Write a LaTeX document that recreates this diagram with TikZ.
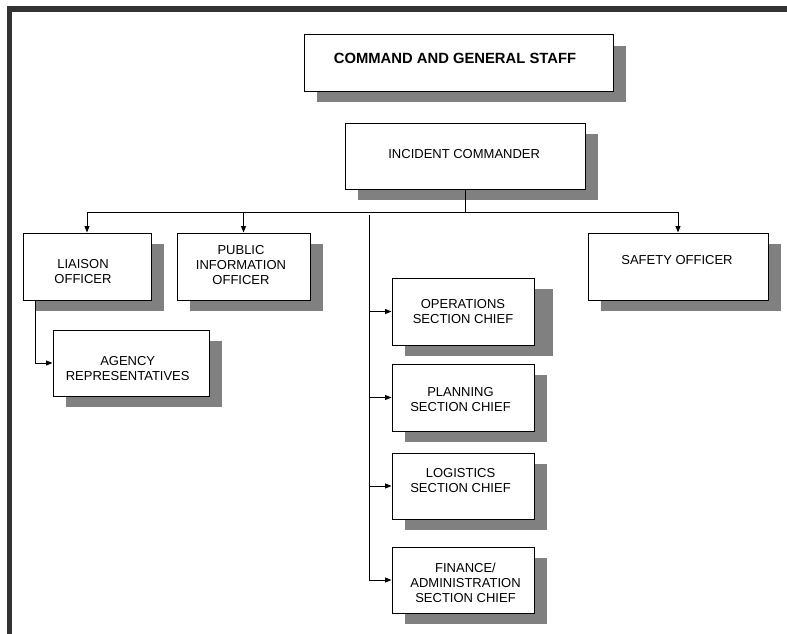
\documentclass[tikz,border=0pt]{standalone}
\usepackage{fontspec}
\setmainfont{Liberation Sans}
\usetikzlibrary{arrows.meta,shadows}
\definecolor{shadowgray}{HTML}{808080}
\definecolor{framegray}{HTML}{333333}
\begin{document}
\begin{tikzpicture}[x=1pt,y=-1pt,
  box/.style={draw=black, line width=1pt, fill=white, inner sep=0pt,
    drop shadow={shadow xshift=13pt, shadow yshift=-11pt, fill=shadowgray, opacity=1}},
  txt/.style={anchor=north, inner sep=0pt, align=center, font=\fontsize{13}{15}\selectfont},
  conn/.style={line width=0.9pt, black},
  arr/.style={conn, -{Triangle[length=6.5pt,width=5pt]}}]
\useasboundingbox (0,0) rectangle (787,634);
% frame
\draw[line width=5.5pt, framegray, line join=miter] (9.5,634) -- (9.5,9) -- (787,9);

% boxes
\node[box, minimum width=309pt, minimum height=56pt] (title) at (458.5,63) {};
\node[box, minimum width=240pt, minimum height=66pt] (ic) at (465,156) {};
\node[box, minimum width=128pt, minimum height=67pt] (lia) at (87,266.5) {};
\node[box, minimum width=133pt, minimum height=67pt] (pio) at (243.5,266.5) {};
\node[box, minimum width=156pt, minimum height=66pt] (agy) at (131,363) {};
\node[box, minimum width=180pt, minimum height=67pt] (saf) at (678,266.5) {};
\node[box, minimum width=142pt, minimum height=67pt,
  drop shadow={shadow xshift=19pt, shadow yshift=-11pt, fill=shadowgray, opacity=1}] (ops) at (463,311.5) {};
\node[box, minimum width=142pt, minimum height=67pt] (pln) at (463,397.5) {};
\node[box, minimum width=142pt, minimum height=66pt] (log) at (463,486) {};
\node[box, minimum width=142pt, minimum height=66pt] (fin) at (463,580) {};

% texts
\node[txt, font=\fontsize{14.8}{17}\selectfont\bfseries] (title-t) at (455,53) {COMMAND AND GENERAL STAFF};
\node[txt] (ic-t) at (464.2,149) {INCIDENT COMMANDER};
\node[txt] (lia-t) at (83,259) {LIAISON\\OFFICER};
\node[txt] (pio-t) at (241,245) {PUBLIC\\INFORMATION\\OFFICER};
\node[txt] (agy-t) at (127.7,356) {AGENCY\\REPRESENTATIVES};
\node[txt] (saf-t) at (677,255) {SAFETY OFFICER};
\node[txt] (ops-t) at (463,299) {OPERATIONS\\SECTION CHIEF};
\node[txt] (pln-t) at (460.5,387) {PLANNING\\SECTION CHIEF};
\node[txt] (log-t) at (460.5,468) {LOGISTICS\\SECTION CHIEF};
\node[txt] (fin-t) at (465.5,563) {FINANCE/\\ADMINISTRATION\\SECTION CHIEF};

% connectors
\coordinate (bus) at (464,212);
\coordinate (stem) at (369,215);
\draw[conn] (ic.south) -- (ic.south |- bus);
\draw[conn] (lia.north |- bus) -- (saf.north |- bus);
\draw[arr] (lia.north |- bus) -- (lia.north);
\draw[arr] (pio.north |- bus) -- (pio.north);
\draw[arr] (saf.north |- bus) -- (saf.north);
\draw[conn] (stem) -- (stem |- fin.west);
\draw[arr] (stem |- ops.west) -- (ops.west);
\draw[arr] (stem |- pln.west) -- (pln.west);
\draw[arr] (stem |- log.west) -- (log.west);
\draw[arr] (stem |- fin.west) -- (fin.west);
\draw[arr] ([xshift=13pt]lia.south west) |- (agy.west);
\end{tikzpicture}
\end{document}
